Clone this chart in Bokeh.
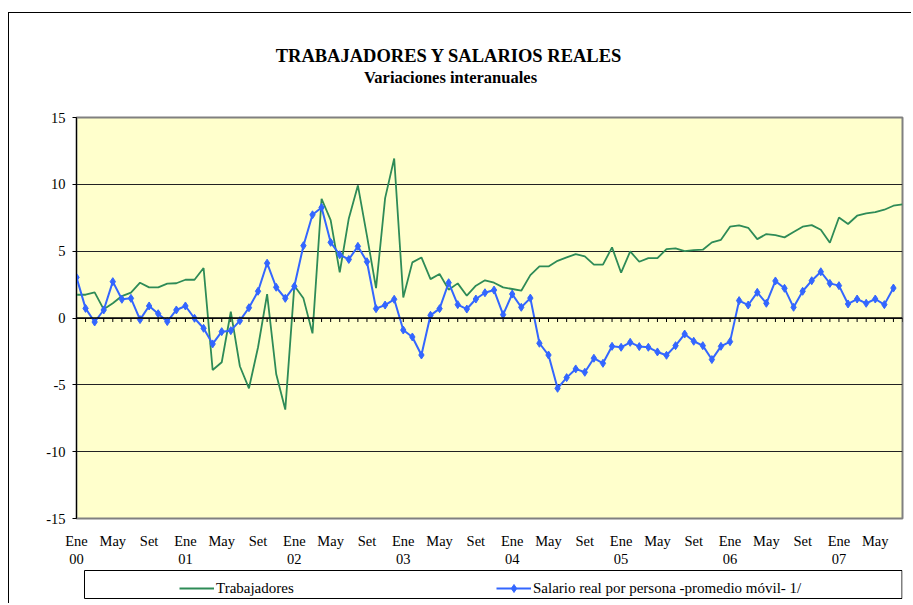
from bokeh.plotting import figure
from bokeh.layouts import column
from bokeh.models import (FixedTicker, LinearAxis, Span, Label, Legend, LegendItem,
                          Range1d, BoxAnnotation)
from bokeh.embed import file_html
from bokeh.resources import INLINE

# ---------------- data ----------------
title_text = "TRABAJADORES  Y SALARIOS REALES"
subtitle_text = "Variaciones interanuales"
month_names = ["Ene", "May", "Set"]
year_labels = ["00", "01", "02", "03", "04", "05", "06", "07"]
y_ticks = [-15, -10, -5, 0, 5, 10, 15]

trabajadores = [1.74, 1.74, 1.92, 0.65, 1.10, 1.64, 1.90, 2.64, 2.29, 2.29, 2.57, 2.60,
                2.86, 2.86, 3.74, -3.89, -3.31, 0.47, -3.61, -5.26, -2.19, 1.79, -4.19, -6.85,
                2.42, 1.47, -1.15, 8.92, 7.32, 3.41, 7.45, 9.92, 6.15, 2.24, 8.97, 11.93,
                1.54, 4.16, 4.53, 2.91, 3.29, 2.12, 2.59, 1.67, 2.42, 2.82, 2.64, 2.29,
                2.17, 2.04, 3.21, 3.86, 3.86, 4.28, 4.53, 4.78, 4.61, 3.99, 3.99, 5.28,
                3.39, 4.98, 4.21, 4.48, 4.48, 5.15, 5.21, 5.01, 5.08, 5.11, 5.66, 5.85,
                6.83, 6.93, 6.75, 5.90, 6.28, 6.20, 6.03, 6.43, 6.83, 6.95, 6.60, 5.63,
                7.52, 7.03, 7.65, 7.82, 7.92, 8.10, 8.40, 8.50]

salario = [3.04, 0.72, -0.30, 0.60, 2.72, 1.40, 1.47, -0.12, 0.90, 0.32, -0.27, 0.60,
           0.90, -0.02, -0.77, -1.94, -1.02, -0.95, -0.20, 0.77, 2.00, 4.10, 2.30, 1.47,
           2.37, 5.41, 7.72, 8.27, 5.66, 4.73, 4.38, 5.36, 4.21, 0.70, 0.97, 1.40,
           -0.90, -1.42, -2.77, 0.20, 0.70, 2.64, 1.00, 0.67, 1.42, 1.89, 2.09, 0.25,
           1.79, 0.80, 1.49, -1.89, -2.77, -5.26, -4.46, -3.81, -4.06, -3.01, -3.39, -2.12,
           -2.19, -1.82, -2.14, -2.19, -2.54, -2.79, -2.07, -1.20, -1.74, -2.07, -3.11, -2.12,
           -1.77, 1.30, 0.97, 1.92, 1.10, 2.77, 2.22, 0.80, 2.00, 2.79, 3.46, 2.59,
           2.42, 1.05, 1.42, 1.10, 1.42, 1.00, 2.24]

series_names = ["Trabajadores", "Salario real por persona -promedio móvil- 1/"]

months = list(range(len(trabajadores)))          # 0 = Ene 2000
months_sal = months[:len(salario)]

SERIF = "Liberation Serif"
GREEN = "#2E8B57"
BLUE = "#3366FF"
TICK_FONT = "14.5px"
BORDERS = dict(min_border_left=67, min_border_right=9)


def blank(fig):
    fig.xgrid.visible = False
    fig.ygrid.visible = False
    fig.outline_line_color = None
    fig.background_fill_color = "white"
    fig.border_fill_color = "white"


# ---------------- header (titles) ----------------
# header ranges expressed in page pixels: x 76..902, y 109 (bottom) .. 13 (top)
hd = figure(width=902, height=96, output_backend="svg", toolbar_location=None,
            x_range=Range1d(76, 902), y_range=Range1d(109, 13),
            x_axis_location=None, y_axis_location=None,
            min_border_top=0, min_border_bottom=0, **BORDERS)
blank(hd)
hd.add_layout(Label(x=451, y=55, text=title_text, text_align="center",
                    text_baseline="alphabetic", text_font=SERIF,
                    text_font_size="18.5px", text_font_style="bold", text_color="black"))
hd.add_layout(Label(x=450, y=77, text=subtitle_text, text_align="center",
                    text_baseline="alphabetic", text_font=SERIF,
                    text_font_size="16.5px", text_font_style="bold", text_color="black"))

# ---------------- main chart ----------------
p = figure(width=902, height=460, output_backend="svg", toolbar_location=None,
           x_range=Range1d(0, months[-1]), y_range=Range1d(y_ticks[0], y_ticks[-1]),
           x_axis_location=None,
           min_border_top=8, min_border_bottom=51, **BORDERS)

p.background_fill_color = "#FFFFCC"
p.border_fill_color = "white"
p.outline_line_color = "#808080"
p.outline_line_width = 2

yax = p.yaxis[0]
yax.ticker = FixedTicker(ticks=y_ticks)
yax.major_label_overrides = {t: str(t) for t in y_ticks}
yax.major_label_text_font = SERIF
yax.major_label_text_font_size = TICK_FONT
yax.major_label_text_color = "black"
yax.axis_line_color = "black"
yax.major_tick_line_color = "black"
yax.major_tick_out = 4
yax.major_tick_in = 0
yax.minor_tick_line_color = None
yax.major_label_standoff = 7

p.xgrid.visible = False
p.ygrid.ticker = FixedTicker(ticks=y_ticks[1:-1])
p.ygrid.grid_line_color = "#222222"
p.ygrid.grid_line_width = 1

month_ticks = list(range(0, len(months), 4))
ax1 = LinearAxis(ticker=FixedTicker(ticks=month_ticks),
                 major_label_overrides={t: month_names[(t % 12) // 4] for t in month_ticks})
year_ticks = list(range(0, len(months), 12))
ax2 = LinearAxis(ticker=FixedTicker(ticks=year_ticks),
                 major_label_overrides={t: year_labels[t // 12] for t in year_ticks})
for ax, so in ((ax1, 14), (ax2, 2)):
    ax.axis_line_color = None
    ax.major_tick_line_color = None
    ax.minor_tick_line_color = None
    ax.major_tick_out = 0
    ax.major_tick_in = 0
    ax.major_label_standoff = so
    ax.major_label_text_font = SERIF
    ax.major_label_text_font_size = TICK_FONT
    ax.major_label_text_color = "black"
    p.add_layout(ax, "below")

p.add_layout(Span(location=0, dimension="width", line_color="black", line_width=1.6))
p.segment(x0=months, y0=[0] * len(months), x1=months, y1=[-0.3] * len(months),
          line_color="black", line_width=1)

p.line(months, trabajadores, line_color=GREEN, line_width=1.8)
p.line(months_sal, salario, line_color=BLUE, line_width=2)
p.scatter(months_sal, salario, marker="diamond", size=8,
          fill_color=BLUE, line_color=BLUE)

# ---------------- legend strip ----------------
# ranges in page pixels: x 76..902, y 601 (bottom) .. 569 (top)
lg = figure(width=902, height=34, output_backend="svg", toolbar_location=None,
            x_range=Range1d(76, 902), y_range=Range1d(601, 569),
            x_axis_location=None, y_axis_location=None,
            min_border_top=0, min_border_bottom=2, **BORDERS)
blank(lg)
lg.add_layout(BoxAnnotation(left=84, right=901.5, top=570, bottom=598,
                            fill_alpha=0, line_color="black", line_width=1,
                            line_alpha=1))

# legend-key renderers (their single point lies outside the strip's ranges)
k1 = lg.line(x=months[:1], y=trabajadores[:1], line_color=GREEN, line_width=1.8)
k2 = lg.line(x=months_sal[:1], y=salario[:1], line_color=BLUE, line_width=2)
k3 = lg.scatter(x=months_sal[:1], y=salario[:1], marker="diamond", size=8,
                fill_color=BLUE, line_color=BLUE)

common = dict(orientation="horizontal", padding=4, spacing=0, glyph_width=35,
              label_standoff=2, margin=0, border_line_color=None,
              background_fill_alpha=0,
              label_text_font=SERIF, label_text_font_size="15px",
              label_text_color="black")
lg.add_layout(Legend(items=[LegendItem(label=series_names[0], renderers=[k1])],
                     location=(103, 3), **common))
lg.add_layout(Legend(items=[LegendItem(label=series_names[1], renderers=[k2, k3])],
                     location=(420, 3), **common))

layout = column(hd, p, lg, spacing=0)
layout.styles = {"margin-left": "8px", "margin-top": "12px",
                 "border-left": "1px solid black", "border-top": "1px solid black"}

open("out.html", "w").write(file_html(layout, INLINE))
